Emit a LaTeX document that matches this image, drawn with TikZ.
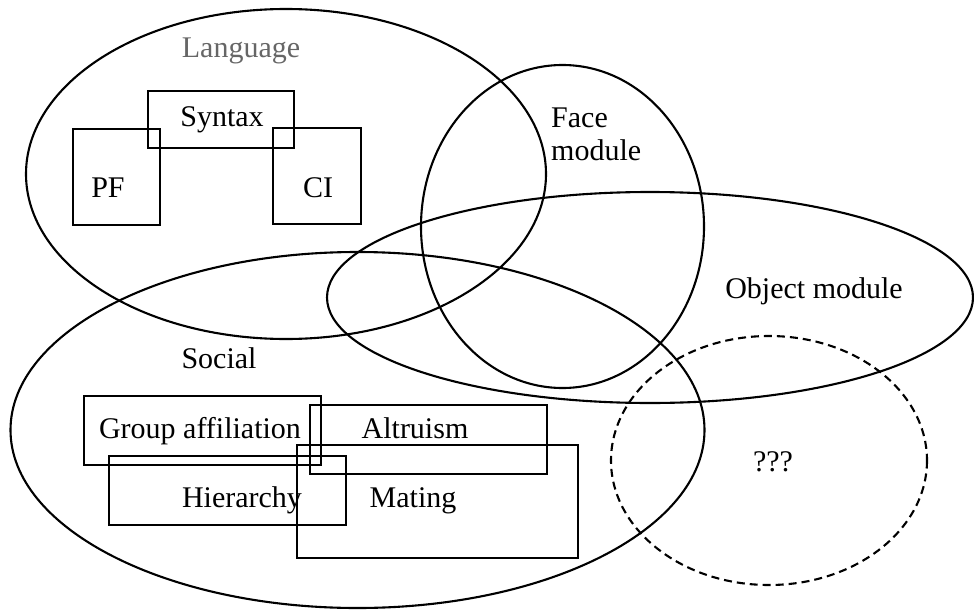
\documentclass[tikz,border=0pt]{standalone}
\usepackage{fontspec}
\setmainfont{Liberation Serif}
\begin{document}
\begin{tikzpicture}[x=1pt,y=-1pt,
  region/.style={line width=2.1pt},
  unknown/.style={line width=2.1pt, dash pattern=on 8pt off 5pt},
  part/.style={line width=2.4pt},
  lbl/.style={font=\fontsize{30}{33}\selectfont, inner sep=0pt, anchor=base},
  lblw/.style={lbl, anchor=base west}]
\useasboundingbox (0,0) rectangle (974,610);

% domains
\draw[region] (286,174) ellipse [x radius=260, y radius=165];
\draw[region] (562.5,226.5) ellipse [x radius=141.5, y radius=161.5];
\draw[region] (650,297.5) ellipse [x radius=323, y radius=105.5];
\draw[region] (357.5,430) ellipse [x radius=347, y radius=178];
\draw[unknown] (769,460.5) ellipse [x radius=158, y radius=124.5];

% language components
\draw[part] (148,91) rectangle (294,148);
\draw[part] (73,129) rectangle (160,225);
\draw[part] (273,128) rectangle (361,224);

% social components
\draw[part] (84,396) rectangle (321,465);
\draw[part] (310,405) rectangle (547,474);
\draw[part] (109,456) rectangle (346,525);
\draw[part] (297,445) rectangle (578,558);

% labels
\node[lbl, text=black!60] (language) at (241,57) {Language};
\node[lbl] (syntax) at (222,126) {Syntax};
\node[lbl] (pf) at (108,197) {PF};
\node[lbl] (ci) at (318,197) {CI};
\node[lblw] (face) at (551,127) {Face};
\node[lblw] (facemod) at (551,160) {module};
\node[lbl] (object) at (814,298) {Object module};
\node[lbl] (social) at (219,368) {Social};
\node[lbl] (group) at (200,438) {Group affiliation};
\node[lbl] (altruism) at (415,438) {Altruism};
\node[lbl] (hierarchy) at (242,507) {Hierarchy};
\node[lbl] (mating) at (413,507) {Mating};
\node[lbl] (unknownlbl) at (773,471) {???};
\end{tikzpicture}
\end{document}
